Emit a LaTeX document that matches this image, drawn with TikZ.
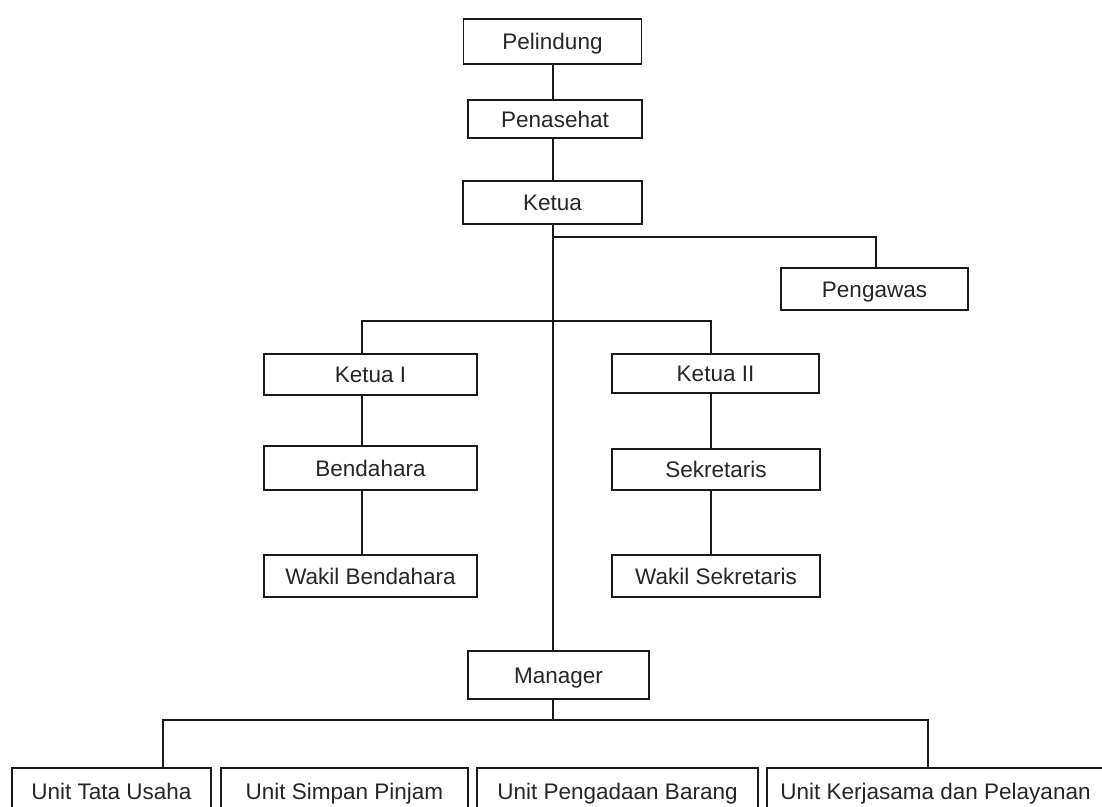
\documentclass[tikz,border=0pt]{standalone}
\usepackage{fontspec}
\setmainfont{Liberation Sans}
\begin{document}
\begin{tikzpicture}[x=1pt,y=-1pt,
  box/.style={draw=black!90,line width=1.8pt,fill=white,inner sep=0pt,anchor=center,
    text height=16pt,text depth=0pt,
    font=\fontsize{22.5}{26}\selectfont,text=black!85},
  conn/.style={draw=black!90,line width=1.8pt}]
\useasboundingbox (0,0) rectangle (1102,806);
\clip (0,0) rectangle (1102,806);
\coordinate (tx) at (552.7,0);
\coordinate (pgx) at (876,237);
\coordinate (kl) at (361.7,320.7);
\coordinate (kr) at (711,320.7);
\coordinate (ml) at (163,720);
\coordinate (mr) at (928,720);
% nodes
\node[box,minimum width=178pt,minimum height=45pt] (pel) at (552.5,41.5) {Pelindung};
\node[box,minimum width=174pt,minimum height=38pt] (pen) at (555,119) {Penasehat};
\node[box,minimum width=179pt,minimum height=43pt] (ket) at (552.5,202.5) {Ketua};
\node[box,minimum width=187pt,minimum height=42pt] (pgw) at (874.5,289) {Pengawas};
\node[box,minimum width=213pt,minimum height=41pt] (k1) at (370.5,374.5) {Ketua I};
\node[box,minimum width=207pt,minimum height=39pt] (k2) at (715.5,373.5) {Ketua II};
\node[box,minimum width=213pt,minimum height=44pt] (ben) at (370.5,468) {Bendahara};
\node[box,minimum width=208pt,minimum height=41pt] (sek) at (716,469.5) {Sekretaris};
\node[box,minimum width=213pt,minimum height=42pt] (wben) at (370.5,576) {Wakil Bendahara};
\node[box,minimum width=208pt,minimum height=42pt] (wsek) at (716,576) {Wakil Sekretaris};
\node[box,minimum width=181pt,minimum height=48pt] (man) at (558.5,675) {Manager};
\node[box,minimum width=199pt,minimum height=46pt] (u1) at (111.5,791) {Unit Tata Usaha};
\node[box,minimum width=247pt,minimum height=46pt] (u2) at (344.5,791) {Unit Simpan Pinjam};
\node[box,minimum width=281pt,minimum height=46pt] (u3) at (617.5,791) {Unit Pengadaan Barang};
\node[box,minimum width=337pt,minimum height=46pt] (u4) at (935.5,791) {Unit Kerjasama dan Pelayanan};
% connectors
\draw[conn] (tx |- pel.south) -- (tx |- pen.north);
\draw[conn] (tx |- pen.south) -- (tx |- ket.north);
\draw[conn] (tx |- ket.south) -- (tx |- man.north);
\draw[conn] (tx |- pgx) -- (pgx) -- (pgx |- pgw.north);
\draw[conn] (kl |- k1.north) -- (kl) -- (kr) -- (kr |- k2.north);
\draw[conn] (kl |- k1.south) -- (kl |- ben.north);
\draw[conn] (kl |- ben.south) -- (kl |- wben.north);
\draw[conn] (kr |- k2.south) -- (kr |- sek.north);
\draw[conn] (kr |- sek.south) -- (kr |- wsek.north);
\draw[conn] (tx |- man.south) -- (tx |- ml);
\draw[conn] (ml |- u1.north) -- (ml) -- (mr) -- (mr |- u4.north);
\end{tikzpicture}
\end{document}
